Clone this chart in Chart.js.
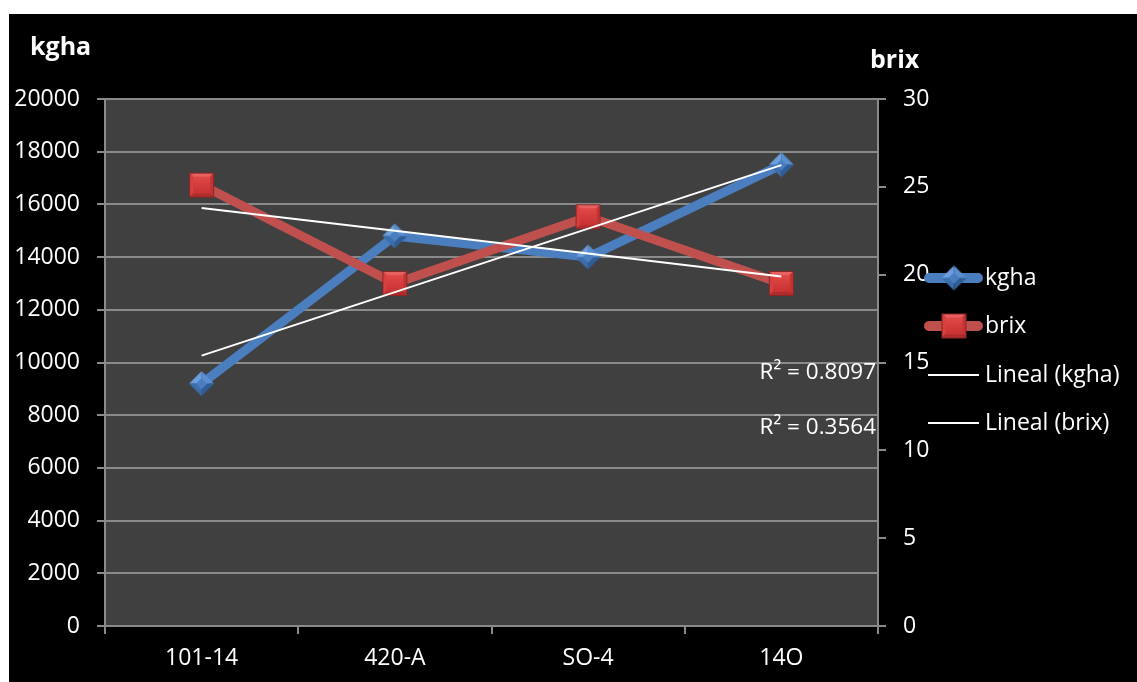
<!DOCTYPE html>
<html>
<head>
<meta charset="utf-8">
<title>kgha / brix</title>
<script src="https://cdn.jsdelivr.net/npm/chart.js@4/dist/chart.umd.min.js"></script>
<style>
  html, body { margin: 0; padding: 0; background: #ffffff; }
  #wrap { position: absolute; left: 9px; top: 14px; width: 1128px; height: 668px; background: #000000; }
</style>
</head>
<body>
<div id="wrap"><canvas id="chart"></canvas></div>
<script>
// Varieties on the category axis
const categories = ['101-14', '420-A', 'SO-4', '14O'];
// Yield (kg/ha), left axis
const kgha = [9200, 14800, 14000, 17500];
// Sugar content (°Brix), right axis
const brix = [25.1, 19.5, 23.3, 19.5];
// Axis ranges
const kghaTicks = { min: 0, max: 20000, step: 2000 };
const brixTicks = { min: 0, max: 30, step: 5 };

const FONT = '"Open Sans", "Noto Sans", sans-serif';
const BLUE = '#4a7ebf';
const RED = '#c0504d';
const GRID = '#8a8a8a';

// Least-squares line over category positions 0..n-1, with R²
function linearFit(vals) {
  const n = vals.length;
  const mx = (n - 1) / 2;
  const my = vals.reduce((a, b) => a + b, 0) / n;
  let sxy = 0, sxx = 0, syy = 0;
  vals.forEach((v, i) => { sxy += (i - mx) * (v - my); sxx += (i - mx) ** 2; syy += (v - my) ** 2; });
  const slope = sxy / sxx;
  const icpt = my - slope * mx;
  return { line: vals.map((_, i) => icpt + slope * i), r2: (slope * slope * sxx) / syy };
}
const fitK = linearFit(kgha);
const fitB = linearFit(brix);

// Bevelled diamond marker
function diamondMarker(s) {
  const c = document.createElement('canvas');
  c.width = s; c.height = s;
  const g = c.getContext('2d');
  const h = s / 2, r = h - 1;
  const T = [h, h - r], R = [h + r, h], B = [h, h + r], L = [h - r, h], C = [h, h];
  const tri = (a, b, col) => { g.fillStyle = col; g.beginPath(); g.moveTo(a[0], a[1]); g.lineTo(b[0], b[1]); g.lineTo(C[0], C[1]); g.closePath(); g.fill(); };
  tri(T, L, '#6d9fe0'); tri(T, R, '#5a8fd2'); tri(L, B, '#3c6eac'); tri(R, B, '#2f5d96');
  const q = r * 0.45;
  g.fillStyle = BLUE;
  g.beginPath(); g.moveTo(h, h - q); g.lineTo(h + q, h); g.lineTo(h, h + q); g.lineTo(h - q, h); g.closePath(); g.fill();
  return c;
}

// Bevelled square marker
function squareMarker(s) {
  const c = document.createElement('canvas');
  c.width = s; c.height = s;
  const g = c.getContext('2d');
  const a = 1, b = s - 1, m = s / 2;
  const quad = (pts, col) => { g.fillStyle = col; g.beginPath(); g.moveTo(pts[0][0], pts[0][1]); pts.slice(1).forEach(p => g.lineTo(p[0], p[1])); g.closePath(); g.fill(); };
  quad([[a, a], [b, a], [m, m]], '#e86060');
  quad([[a, a], [a, b], [m, m]], '#d64040');
  quad([[b, a], [b, b], [m, m]], '#c23434');
  quad([[a, b], [b, b], [m, m]], '#b02c2c');
  const i = 5;
  const grd = g.createLinearGradient(0, i, 0, s - i);
  grd.addColorStop(0, '#e24848'); grd.addColorStop(1, '#c83232');
  g.fillStyle = grd; g.fillRect(i, i, s - 2 * i, s - 2 * i);
  g.strokeStyle = '#8e2525'; g.lineWidth = 1; g.strokeRect(a + 0.5, a + 0.5, b - a - 1, b - a - 1);
  return c;
}

const dMark = diamondMarker(27);
const sMark = squareMarker(27);

// Dark plot area behind the data
const plotBackground = {
  id: 'plotBackground',
  beforeDraw(chart) {
    const { ctx, chartArea: a } = chart;
    ctx.save();
    ctx.fillStyle = '#404040';
    ctx.fillRect(a.left, a.top, a.right - a.left, a.bottom - a.top);
    ctx.restore();
  }
};

// Axis titles, R² labels and the legend
const annotations = {
  id: 'annotations',
  afterDraw(chart) {
    const { ctx, chartArea: a } = chart;
    ctx.save();
    ctx.fillStyle = '#ffffff';
    ctx.textBaseline = 'alphabetic';
    ctx.font = 'bold 25px ' + FONT;
    ctx.textAlign = 'left';
    ctx.fillText('kgha', 21, 41);
    ctx.fillText('brix', a.right - 8, 54);

    ctx.font = '22.5px ' + FONT;
    ctx.textAlign = 'right';
    ctx.textBaseline = 'middle';
    ctx.fillText('R² = ' + fitK.r2.toFixed(4), a.right - 2, 359);
    ctx.fillText('R² = ' + fitB.r2.toFixed(4), a.right - 2, 414);

    const lx = a.right + 46;   // legend sample start
    const tx = a.right + 107;  // legend text start
    const items = [
      { label: 'kgha', y: 264, color: BLUE, width: 10, mark: dMark },
      { label: 'brix', y: 312, color: RED, width: 10, mark: sMark },
      { label: 'Lineal (kgha)', y: 361, color: '#ffffff', width: 2 },
      { label: 'Lineal (brix)', y: 409, color: '#ffffff', width: 2 }
    ];
    items.forEach(it => {
      ctx.strokeStyle = it.color;
      ctx.lineWidth = it.width;
      ctx.lineCap = it.mark ? 'round' : 'butt';
      ctx.beginPath();
      if (it.mark) { ctx.moveTo(lx + 5, it.y); ctx.lineTo(lx + 54, it.y); }
      else { ctx.moveTo(lx + 4, it.y); ctx.lineTo(lx + 55, it.y); }
      ctx.stroke();
      if (it.mark) ctx.drawImage(it.mark, lx + 30 - it.mark.width / 2, it.y - it.mark.height / 2);
      ctx.fillStyle = '#ffffff';
      ctx.textAlign = 'left';
      ctx.textBaseline = 'middle';
      ctx.font = '23px ' + FONT;
      ctx.fillText(it.label, tx, it.y);
    });
    ctx.restore();
  }
};

const tickFont = { family: FONT, size: 23 };
const plain = v => String(v);

new Chart(document.getElementById('chart'), {
  type: 'line',
  data: {
    labels: categories,
    datasets: [
      { label: 'Lineal (kgha)', data: fitK.line, yAxisID: 'y', borderColor: '#ffffff', borderWidth: 2, pointRadius: 0, order: 0 },
      { label: 'Lineal (brix)', data: fitB.line, yAxisID: 'y2', borderColor: '#ffffff', borderWidth: 2, pointRadius: 0, order: 0 },
      { label: 'brix', data: brix, yAxisID: 'y2', borderColor: RED, borderWidth: 9, pointStyle: sMark, pointRadius: 13, order: 1 },
      { label: 'kgha', data: kgha, yAxisID: 'y', borderColor: BLUE, borderWidth: 9, pointStyle: dMark, pointRadius: 13, order: 2 }
    ]
  },
  options: {
    responsive: true,
    maintainAspectRatio: false,
    animation: false,
    layout: { padding: { top: 85, left: 0, right: 0, bottom: 0 } },
    plugins: { legend: { display: false }, tooltip: { enabled: false } },
    elements: { line: { tension: 0, borderJoinStyle: 'round' } },
    scales: {
      x: {
        offset: true,
        grid: { offset: true, drawOnChartArea: false, drawTicks: true, tickLength: 8, color: GRID, lineWidth: 2 },
        border: { display: true, color: GRID, width: 2 },
        ticks: { color: '#ffffff', font: tickFont, padding: 11, maxRotation: 0 },
        afterFit(s) { s.height = 56; }
      },
      y: {
        position: 'left',
        min: kghaTicks.min, max: kghaTicks.max,
        grid: { color: GRID, lineWidth: 2, tickLength: 8 },
        border: { display: true, color: GRID, width: 2 },
        ticks: { stepSize: kghaTicks.step, color: '#ffffff', font: tickFont, padding: 17, callback: plain },
        afterFit(s) { s.width = 96; }
      },
      y2: {
        position: 'right',
        min: brixTicks.min, max: brixTicks.max,
        grid: { drawOnChartArea: false, color: GRID, lineWidth: 2, tickLength: 8 },
        border: { display: true, color: GRID, width: 2 },
        ticks: { stepSize: brixTicks.step, color: '#ffffff', font: tickFont, padding: 17, callback: plain },
        afterFit(s) { s.width = 259; }
      }
    }
  },
  plugins: [plotBackground, annotations]
});
</script>
</body>
</html>
